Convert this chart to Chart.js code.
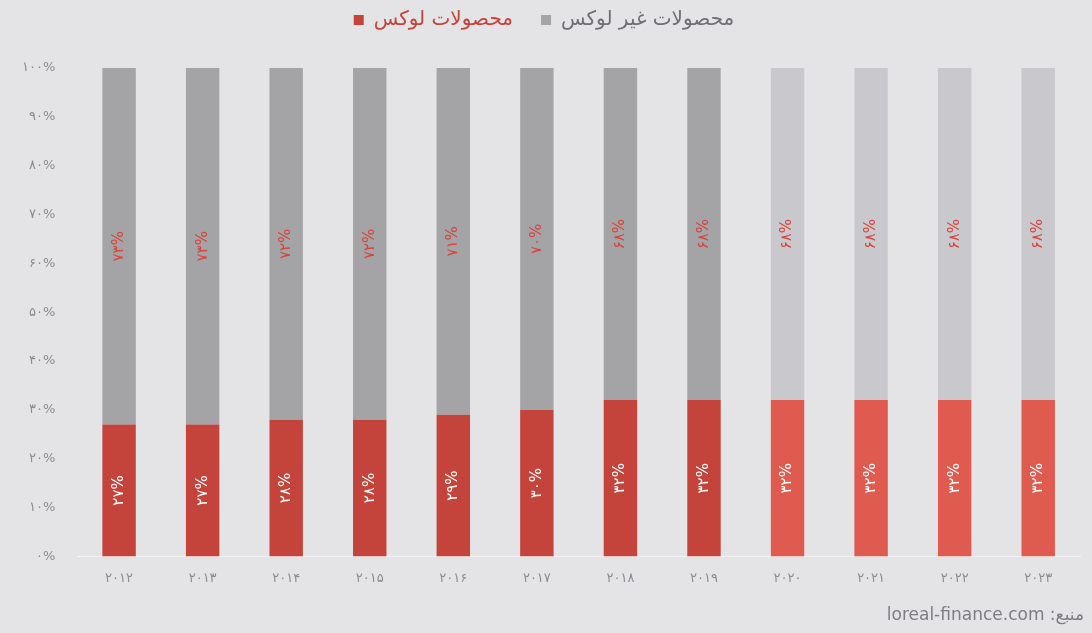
<!DOCTYPE html>
<html lang="fa">
<head>
<meta charset="utf-8">
<script src="https://cdn.jsdelivr.net/npm/chart.js@4"></script>
<style>
  html, body { margin: 0; padding: 0; background: #e4e4e7; }
  #wrap { position: relative; width: 1092px; height: 633px; }
  #source { position: absolute; right: 8px; bottom: 9px; font-family: "DejaVu Sans", "Noto Sans", sans-serif; font-size: 17px; color: #7e7e82; direction: rtl; }
</style>
</head>
<body>
<div id="wrap">
  <canvas id="myChart" width="1092" height="633"></canvas>
  <div id="source">منبع: loreal-finance.com</div>
</div>
<script>
// years (persian digits)
const years = ['۲۰۱۲','۲۰۱۳','۲۰۱۴','۲۰۱۵','۲۰۱۶','۲۰۱۷','۲۰۱۸','۲۰۱۹','۲۰۲۰','۲۰۲۱','۲۰۲۲','۲۰۲۳'];
const luxury = [27, 27, 28, 28, 29, 30, 32, 32, 32, 32, 32, 32];
const nonLuxury = [73, 73, 72, 72, 71, 70, 68, 68, 68, 68, 68, 68];
const yTickLabels = ['۰%','۱۰%','۲۰%','۳۰%','۴۰%','۵۰%','۶۰%','۷۰%','۸۰%','۹۰%','۱۰۰%'];
const seriesNames = ['محصولات لوکس', 'محصولات غیر لوکس'];

const faDigits = '۰۱۲۳۴۵۶۷۸۹';
const toFa = (n) => String(n).replace(/\d/g, d => faDigits[d]);

// last 4 years drawn lighter
const redCols = years.map((y, i) => i < 8 ? '#c4433b' : '#df5a4f');
const greyCols = years.map((y, i) => i < 8 ? '#a4a4a7' : '#c9c9cd');

const FONT = '"DejaVu Sans", "Noto Sans", sans-serif';

const barLabels = {
    id: 'barLabels',
    afterDatasetsDraw(chart) {
        const ctx = chart.ctx;
        chart.data.datasets.forEach((ds, di) => {
            const meta = chart.getDatasetMeta(di);
            meta.data.forEach((bar, i) => {
                const cy = (bar.y + bar.base) / 2;
                ctx.save();
                ctx.translate(bar.x, cy);
                ctx.rotate(-Math.PI / 2);
                ctx.fillStyle = di === 0 ? '#ffffff' : '#d9433b';
                ctx.font = '15px ' + FONT;
                ctx.textAlign = 'center';
                ctx.textBaseline = 'middle';
                ctx.fillText(toFa(ds.data[i]) + '%', 0, 0);
                ctx.restore();
            });
        });
    }
};

// push the plot down below the legend
const legendGap = {
    id: 'legendGap',
    beforeInit(chart) {
        const fit = chart.legend.fit;
        chart.legend.fit = function () {
            fit.bind(chart.legend)();
            this.height += 28;
        };
    }
};

const ctx = document.getElementById('myChart');

new Chart(ctx, {
    type: 'bar',
    data: {
        labels: years,
        datasets: [{
            label: seriesNames[0],
            data: luxury,
            backgroundColor: redCols,
            barPercentage: 0.4,
            categoryPercentage: 1
        }, {
            label: seriesNames[1],
            data: nonLuxury,
            backgroundColor: greyCols,
            barPercentage: 0.4,
            categoryPercentage: 1
        }]
    },
    options: {
        responsive: false,
        animation: false,
        layout: { padding: { top: -18, left: 8, right: 12, bottom: 41 } },
        plugins: {
            legend: {
                position: 'top',
                labels: {
                    boxWidth: 10,
                    boxHeight: 10,
                    padding: 28,
                    font: { family: FONT, size: 20 },
                    generateLabels: (chart) => chart.data.datasets.map((ds, i) => ({
                        text: ds.label,
                        fillStyle: i === 0 ? '#c4433b' : '#a4a4a7',
                        strokeStyle: 'transparent',
                        lineWidth: 0,
                        fontColor: i === 0 ? '#c4433b' : '#6f6f73',
                        datasetIndex: i
                    }))
                }
            },
            tooltip: { enabled: false }
        },
        scales: {
            x: {
                stacked: true,
                grid: { display: false },
                border: { display: true, color: '#f2f2f4', width: 1 },
                ticks: { color: '#8c8c90', font: { family: FONT, size: 13 }, padding: 6 }
            },
            y: {
                stacked: true,
                min: 0,
                max: 100,
                grid: { display: false },
                border: { display: false },
                ticks: {
                    stepSize: 10,
                    color: '#8c8c90',
                    font: { family: FONT, size: 13 },
                    padding: 14,
                    callback: (v) => yTickLabels[Math.round(v / 10)]
                }
            }
        }
    },
    plugins: [barLabels, legendGap]
});
</script>
</body>
</html>
